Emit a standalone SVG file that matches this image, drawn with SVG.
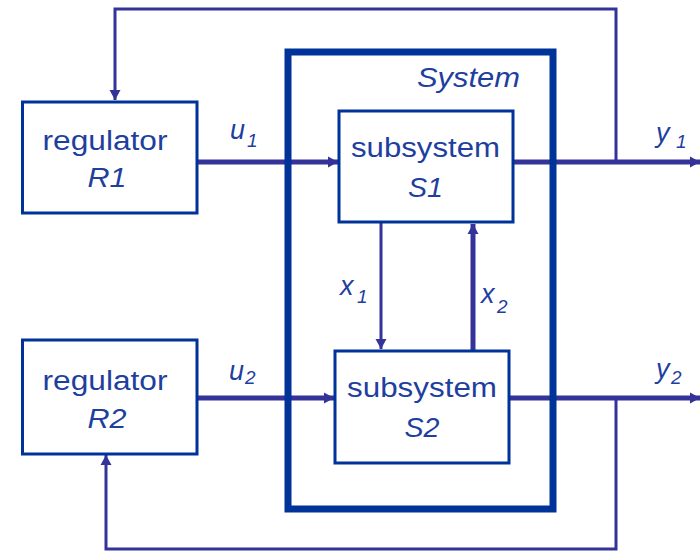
<svg xmlns="http://www.w3.org/2000/svg" width="700" height="552" viewBox="0 0 700 552">
  <style>
    .box { fill: #ffffff; stroke: #003399; stroke-width: 3; }
    .sys { fill: none; stroke: #003399; stroke-width: 7; }
    .wire { fill: none; stroke: #333399; }
    .thin { stroke-width: 3; }
    .thick { stroke-width: 5; }
    text { font-family: "Liberation Sans", Arial, sans-serif; fill: #1f3f9f; }
    .lbl { font-size: 27px; text-anchor: middle; }
    .it { font-style: italic; }
    .sig { font-size: 27px; font-style: italic; }
    .sub { font-size: 19px; font-style: italic; }
  </style>
  <defs>
    <marker id="head" markerUnits="userSpaceOnUse" markerWidth="12" markerHeight="14" refX="10" refY="7" orient="auto">
      <path d="M0,1.5 L10,7 L0,12.5 Z" fill="#333399"/>
    </marker>
  </defs>

  <!-- signal lines -->
  <g id="connectors">
    <path class="wire thin" d="M616,162 V9 H115 V100" marker-end="url(#head)"/>
    <path class="wire thick" d="M198,162 H338" marker-end="url(#head)"/>
    <path class="wire thick" d="M513,162 H700" marker-end="url(#head)"/>
    <path class="wire thin" d="M381,222 V349" marker-end="url(#head)"/>
    <path class="wire thick" d="M473,351 V224" marker-end="url(#head)"/>
    <path class="wire thick" d="M198,398 H334" marker-end="url(#head)"/>
    <path class="wire thick" d="M509,398 H700" marker-end="url(#head)"/>
    <path class="wire thin" d="M616,398 V549 H106 V455" marker-end="url(#head)"/>
  </g>

  <!-- plant boundary -->
  <g id="system">
    <rect class="sys" x="288" y="52" width="265" height="457"/>
    <text class="lbl it" x="468.5" y="87" textLength="103" lengthAdjust="spacingAndGlyphs">System</text>
  </g>

  <g id="r1">
    <rect class="box" x="22.5" y="102" width="174.5" height="111"/>
    <text class="lbl" x="105" y="150" textLength="125" lengthAdjust="spacingAndGlyphs">regulator</text>
    <text class="lbl it" x="107" y="187" textLength="39" lengthAdjust="spacingAndGlyphs">R1</text>
  </g>

  <g id="r2">
    <rect class="box" x="22.5" y="340" width="174.5" height="114"/>
    <text class="lbl" x="105" y="390" textLength="125" lengthAdjust="spacingAndGlyphs">regulator</text>
    <text class="lbl it" x="107" y="428" textLength="39" lengthAdjust="spacingAndGlyphs">R2</text>
  </g>

  <g id="s1">
    <rect class="box" x="339" y="111" width="174" height="111"/>
    <text class="lbl" x="425.5" y="157" textLength="149" lengthAdjust="spacingAndGlyphs">subsystem</text>
    <text class="lbl it" x="425.5" y="197" textLength="35" lengthAdjust="spacingAndGlyphs">S1</text>
  </g>

  <g id="s2">
    <rect class="box" x="335" y="351" width="174" height="112"/>
    <text class="lbl" x="422" y="397" textLength="150" lengthAdjust="spacingAndGlyphs">subsystem</text>
    <text class="lbl it" x="422" y="437" textLength="35" lengthAdjust="spacingAndGlyphs">S2</text>
  </g>

  <!-- signal names -->
  <g id="labels">
    <text class="sig" x="230" y="139">u</text><text class="sub" x="247" y="147">1</text>
    <text class="sig" x="229" y="380">u</text><text class="sub" x="245" y="384">2</text>
    <text class="sig" x="656" y="142">y</text><text class="sub" x="676" y="148">1</text>
    <text class="sig" x="656" y="378">y</text><text class="sub" x="671" y="384">2</text>
    <text class="sig" x="340" y="295">x</text><text class="sub" x="357" y="303">1</text>
    <text class="sig" x="481" y="303">x</text><text class="sub" x="497" y="313">2</text>
  </g>
</svg>
